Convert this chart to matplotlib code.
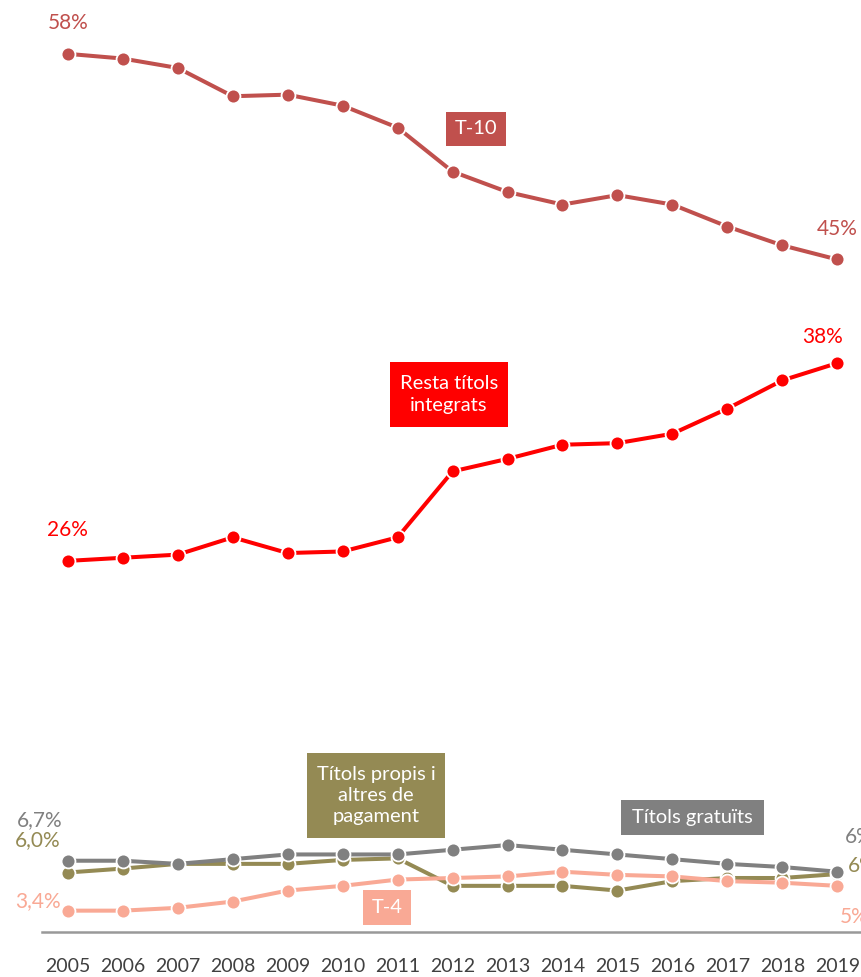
import numpy as np
import matplotlib.pyplot as plt
from matplotlib.patches import Rectangle

plt.rcParams['font.family'] = ['Lato', 'DejaVu Sans']

years = list(range(2005, 2020))

t10 = [58.0, 57.7, 57.1, 55.3, 55.4, 54.7, 53.3, 50.5, 49.2, 48.4, 49.0, 48.4, 47.0, 45.8, 44.9]
resta = [25.7, 25.9, 26.1, 27.2, 26.2, 26.3, 27.2, 31.4, 32.2, 33.1, 33.2, 33.8, 35.4, 37.2, 38.3]
gratuits = [6.6, 6.6, 6.4, 6.7, 7.0, 7.0, 7.0, 7.3, 7.6, 7.3, 7.0, 6.7, 6.4, 6.2, 5.9]
propis = [5.85, 6.1, 6.4, 6.4, 6.4, 6.65, 6.75, 5.0, 5.0, 5.0, 4.7, 5.3, 5.5, 5.5, 5.75]
t4 = [3.42, 3.42, 3.6, 4.0, 4.7, 5.0, 5.4, 5.5, 5.6, 5.9, 5.7, 5.6, 5.3, 5.2, 5.0]

start_labels = ['58%', '26%', '6,7%', '6,0%', '3,4%']
end_labels = ['45%', '38%', '6%', '6%', '5%']

c_t10 = '#C0504D'
c_resta = '#FF0000'
c_grat = '#808080'
c_prop = '#948A54'
c_t4 = '#F9A995'

W, H = 862, 977
fig = plt.figure(figsize=(W / 100, H / 100), dpi=100)
ax = fig.add_axes([42 / W, 1 - 932 / H, 1 - 42 / W, 932 / H])

series = [
    (propis, c_prop),
    (gratuits, c_grat),
    (t4, c_t4),
    (resta, c_resta),
    (t10, c_t10),
]
for vals, col in series:
    ax.plot(years, vals, color=col, lw=2.9, marker='o', ms=10,
            mfc=col, mec='white', mew=1.3, solid_capstyle='round', zorder=3)

ax.set_xlim(2004.53, 2019.45)
ax.set_ylim(2.06, 61.43)
ax.set_xticks(years)
ax.set_xticklabels([str(y) for y in years], fontsize=14, color='#404040')
ax.tick_params(axis='x', length=0, pad=19)
ax.set_yticks([])
for s in ['top', 'right', 'left']:
    ax.spines[s].set_visible(False)
ax.spines['bottom'].set_color('#999999')
ax.spines['bottom'].set_linewidth(1.8)

# value labels at both ends (offsets in pixels)
lab_fs = 15
starts = [(t10, c_t10, (0, 31)), (resta, c_resta, (0, 31)),
          (gratuits, c_grat, (-28, 41)), (propis, c_prop, (-30, 32)),
          (t4, c_t4, (-30, 10))]
for (vals, col, off), txt in zip(starts, start_labels):
    ax.annotate(txt, (years[0], vals[0]), xytext=off, textcoords='offset pixels',
                ha='center', va='center', color=col, fontsize=lab_fs,
                annotation_clip=False)

ends = [(t10, c_t10, (0, 30), 'center'), (resta, c_resta, (-15, 26), 'center'),
        (gratuits, c_grat, (8, 35), 'left'), (propis, c_prop, (11, 8), 'left'),
        (t4, c_t4, (3, -31), 'left')]
for (vals, col, off, ha), txt in zip(ends, end_labels):
    ax.annotate(txt, (years[-1], vals[-1]), xytext=off, textcoords='offset pixels',
                ha=ha, va='center', color=col, fontsize=lab_fs,
                annotation_clip=False)

# series name boxes (pixel boxes: x0, y0, x1, y1)
boxes = [
    ('T-10', c_t10, (446, 112, 506, 146)),
    ('Resta títols\nintegrats', c_resta, (390, 362, 508, 427)),
    ('Títols propis i\naltres de\npagament', c_prop, (307, 753, 445, 838)),
    ('Títols gratuïts', c_grat, (621, 800, 764, 835)),
    ('T-4', c_t4, (363, 890, 411, 925)),
]
for txt, col, (x0, y0, x1, y1) in boxes:
    fig.patches.append(Rectangle((x0 / W, 1 - y1 / H), (x1 - x0) / W, (y1 - y0) / H,
                                 transform=fig.transFigure, facecolor=col,
                                 edgecolor='none', zorder=5))
    fig.text((x0 + x1) / 2 / W, 1 - (y0 + y1) / 2 / H, txt, ha='center', va='center',
             color='white', fontsize=14.5, linespacing=1.3, zorder=6)

fig.savefig('out.png', dpi=100)
